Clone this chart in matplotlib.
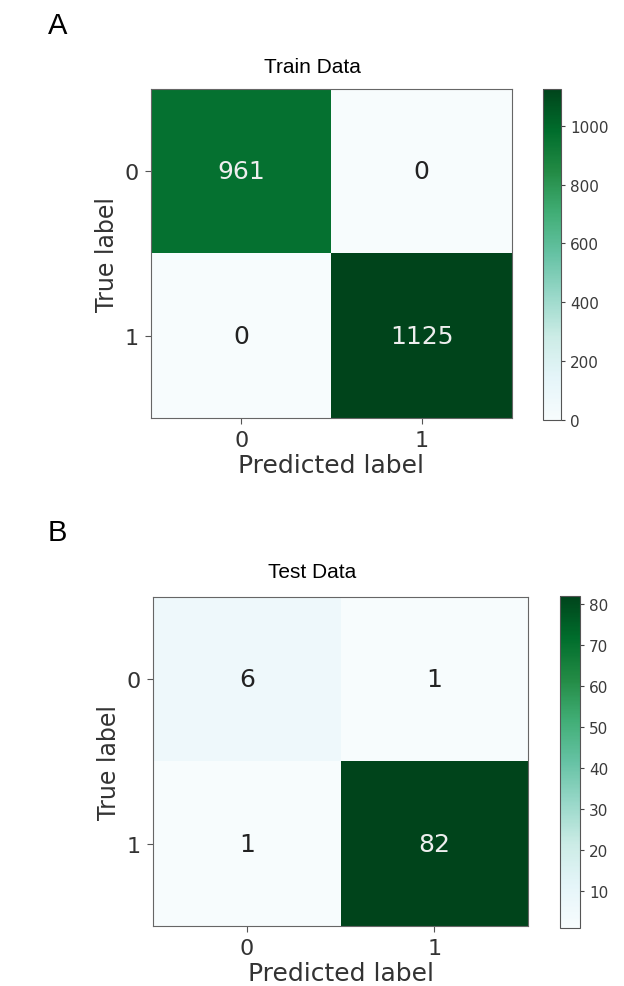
import numpy as np
import matplotlib
matplotlib.use("Agg")
from matplotlib import pyplot as plt

labels = ["0", "1"]
train_cm = np.array([[961, 0], [0, 1125]])
test_cm = np.array([[6, 1], [1, 82]])
train_ticks = [0, 200, 400, 600, 800, 1000]
test_ticks = [10, 20, 30, 40, 50, 60, 70, 80]

fig = plt.figure(figsize=(6.24, 9.87), dpi=100)


def panel(ax_rect, cb_rect, cm, ticks, title, letter, letter_y, title_y):
    ax = fig.add_axes(ax_rect)
    cax = fig.add_axes(cb_rect)
    im = ax.imshow(cm, cmap="BuGn", vmin=cm.min(), vmax=cm.max(), aspect="auto")
    thresh = (cm.max() + cm.min()) / 2.0
    for i in range(2):
        for j in range(2):
            col = "#eeeeee" if cm[i, j] > thresh else "#222222"
            ax.text(j, i, str(cm[i, j]), ha="center", va="center",
                    color=col, fontsize=18)
    ax.set_xticks([0, 1])
    ax.set_yticks([0, 1])
    ax.set_xticklabels(labels, fontsize=16)
    ax.set_yticklabels(labels, fontsize=16)
    ax.set_xlabel("Predicted label", fontsize=18, color="#333333", labelpad=2)
    ax.set_ylabel("True label", fontsize=17, color="#333333", labelpad=4)
    for s in ax.spines.values():
        s.set_edgecolor("#666666")
    ax.tick_params(color="#555555", labelcolor="#333333", length=4, pad=5)
    cb = fig.colorbar(im, cax=cax)
    cb.set_ticks(ticks)
    cb.ax.tick_params(labelsize=11, color="#444444", labelcolor="#3a3a3a",
                      length=3)
    cb.outline.set_edgecolor("#555555")
    fig.text(0.5, title_y, title, ha="center", va="center", fontsize=15,
             family="Liberation Sans")
    fig.text(0.077, letter_y, letter, ha="left", va="center", fontsize=21,
             family="Liberation Sans")


panel([0.242, 0.5755, 0.5785, 0.3333], [0.870, 0.5735, 0.029, 0.3354],
      train_cm, train_ticks, "Train Data", "A", 0.974, 0.932)
panel([0.2452, 0.0608, 0.601, 0.3333], [0.8974, 0.0588, 0.032, 0.3364],
      test_cm, test_ticks, "Test Data", "B", 0.46, 0.42)

fig.savefig("out.png", dpi=100)
